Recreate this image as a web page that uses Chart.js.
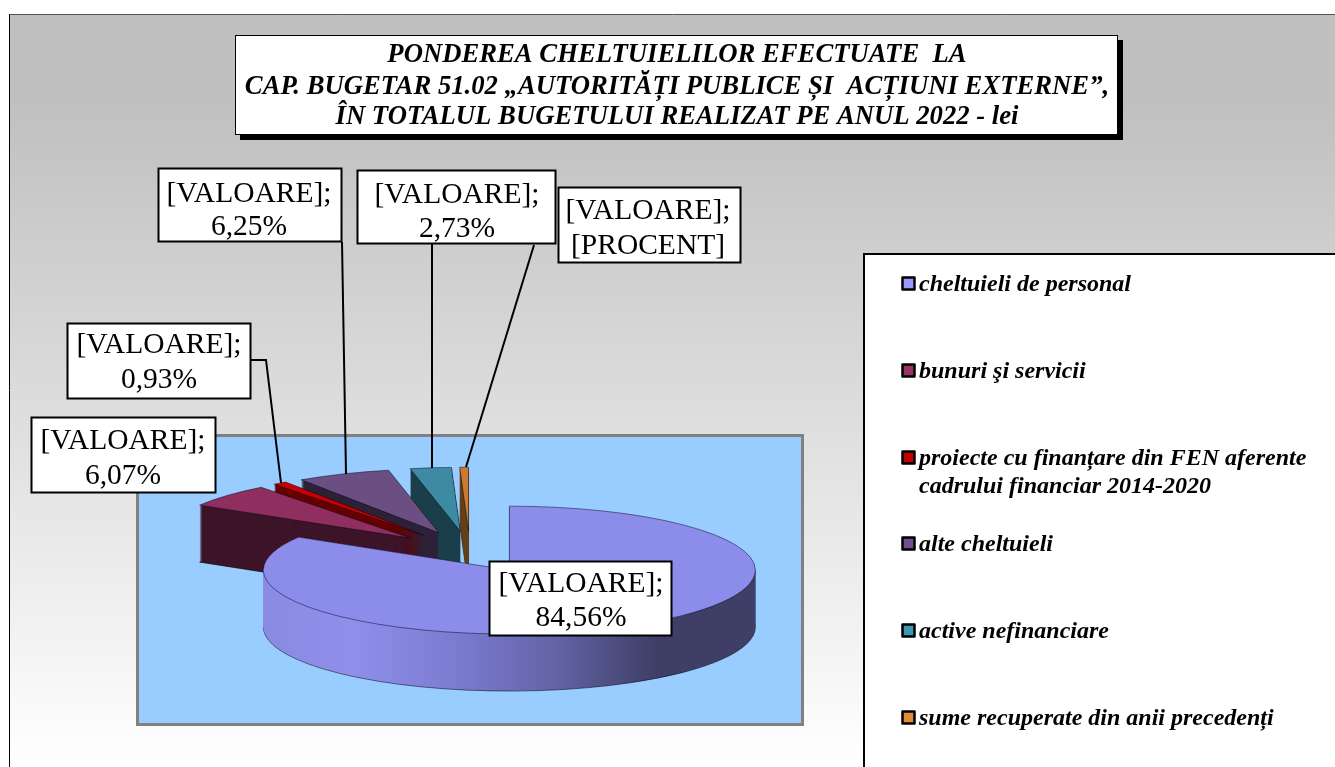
<!DOCTYPE html>
<html lang="ro"><head><meta charset="utf-8">
<style>html,body{margin:0;padding:0;background:#fff;overflow:hidden}canvas{display:block}</style>
<script src="https://cdn.jsdelivr.net/npm/chart.js@4"></script>
</head><body><canvas id="c" width="1335" height="767"></canvas>
<script>
const titleLines = ['PONDEREA CHELTUIELILOR EFECTUATE  LA','CAP. BUGETAR 51.02 „AUTORITĂȚI PUBLICE ȘI  ACȚIUNI EXTERNE”,','ÎN TOTALUL BUGETULUI REALIZAT PE ANUL 2022 - lei'];
const categories = ['cheltuieli de personal','bunuri şi servicii','proiecte cu finanțare din FEN aferente\ncadrului financiar 2014-2020','alte cheltuieli','active nefinanciare','sume recuperate din anii precedenți'];
const values = [84.56,6.07,0.93,6.25,2.73,0.58];
const valueWord = '[VALOARE];';
const percentLabels = ['84,56%','6,07%','0,93%','6,25%','2,73%','[PROCENT]'];
const topColors = ['#8c8ceb','#8e2f60','#c80000','#6b4f82','#3f8aa3','#cc7a33'];
const wallColors = ['#8c8ceb','#3d1428','#640000','#2e2238','#1a3e4a','#664019'];
const swatchColors = ['#9999ff','#993366','#c00000','#705090','#3f97b0','#e08a3c'];

const PIE = {cx:470, cy:552, r:246, k:0.26, explode:80, depth:57};
const SERIF = '"Liberation Serif","Times New Roman",serif';
const calloutBoxes = [
 {x:489,y:561,w:183,h:75,tx:581,y1:584,y2:618},
 {x:31,y:417,w:185,h:76,tx:123,y1:441,y2:476},
 {x:67,y:323,w:184,h:76,tx:159,y1:345,y2:380},
 {x:158,y:168,w:184,h:74,tx:249,y1:194,y2:227},
 {x:357,y:170,w:199,h:74,tx:457,y1:195,y2:229},
 {x:558,y:187,w:183,h:76,tx:648,y1:211,y2:246}
];
const leaders = [
 [[251,360],[266,360],[281,483]],
 [[342,242],[346,474]],
 [[432,244],[432,468]],
 [[534,245],[466,467]]
];
const legendRows = [284,371,458,544,631,718];

function arcWith(arc, bg, bc, bw){
  const a = Object.create(arc);
  a.options = {backgroundColor:bg,borderColor:bc,borderWidth:bw,borderAlign:'center',borderJoinStyle:'round',borderRadius:0,offset:0,spacing:0,circular:true};
  return a;
}
const backdrop = {
  id:'backdrop',
  beforeDraw(chart){
    const c = chart.ctx; c.save();
    c.fillStyle='#fff'; c.fillRect(0,0,1335,767);
    const g = c.createLinearGradient(0,14,0,767);
    g.addColorStop(0,'#c0c0c0'); g.addColorStop(0.12,'#c0c0c0'); g.addColorStop(1,'#ffffff');
    c.fillStyle=g; c.fillRect(10,14,1325,753);
    c.strokeStyle='#555'; c.lineWidth=1; c.beginPath(); c.moveTo(10,14.5); c.lineTo(1335,14.5); c.stroke();
    c.strokeStyle='#000'; c.beginPath(); c.moveTo(9.5,14); c.lineTo(9.5,767); c.stroke();
    c.fillStyle='#99ccff'; c.fillRect(137,435,666,290);
    c.strokeStyle='#808080'; c.lineWidth=3; c.strokeRect(137.5,435.5,665,289);
    c.restore();
  }
};
const pie3d = {
  id:'pie3d',
  beforeDatasetDraw(chart,args){
    const c = chart.ctx, arcs = args.meta.data;
    for(let i=arcs.length-1;i>=0;i--){
      const arc = arcs[i], mid=(arc.startAngle+arc.endAngle)/2;
      const ex = Math.cos(mid)*PIE.explode, ey = Math.sin(mid)*PIE.explode*PIE.k;
      const place = d => {c.translate(PIE.cx+ex,PIE.cy+ey+d); c.scale(1,PIE.k); c.translate(-arc.x,-arc.y);};
      let wall = wallColors[i];
      if(i===0){
        const g = c.createLinearGradient(arc.x-PIE.r,0,arc.x+PIE.r,0);
        g.addColorStop(0,'#8a8ae2'); g.addColorStop(0.18,'#9090ec'); g.addColorStop(0.42,'#7878cc');
        g.addColorStop(0.6,'#6262a4'); g.addColorStop(0.8,'#3e3e66'); g.addColorStop(1,'#3e3e66');
        wall = g;
      }
      for(let d=PIE.depth;d>=1;d--){
        c.save(); place(d);
        arcWith(arc,wall,'rgba(0,0,0,.8)',d===PIE.depth?1:0).draw(c);
        c.restore();
      }
      c.save(); place(0);
      arcWith(arc,topColors[i],'rgba(0,0,20,.75)',1).draw(c);
      c.restore();
    }
    return false;
  }
};
const annotations = {
  id:'annotations',
  afterDatasetsDraw(chart){
    const c = chart.ctx; c.save();
    c.strokeStyle='#000'; c.lineWidth=2;
    leaders.forEach(l=>{c.beginPath(); l.forEach((p,i)=>i?c.lineTo(p[0],p[1]):c.moveTo(p[0],p[1])); c.stroke();});
    calloutBoxes.forEach((b,i)=>{
      c.fillStyle='#fff'; c.fillRect(b.x,b.y,b.w,b.h);
      c.strokeStyle='#000'; c.lineWidth=2; c.strokeRect(b.x+.5,b.y+.5,b.w-1,b.h-1);
      c.fillStyle='#000'; c.font='29.5px '+SERIF; c.textAlign='center'; c.textBaseline='middle';
      c.fillText(valueWord,b.tx,b.y1); c.fillText(percentLabels[i],b.tx,b.y2);
    });
    c.fillStyle='#000'; c.fillRect(240,40,883,100);
    c.fillStyle='#fff'; c.fillRect(235,35,883,100);
    c.strokeStyle='#000'; c.lineWidth=1; c.strokeRect(235.5,35.5,882,99);
    c.fillStyle='#000'; c.font='italic bold 26.7px '+SERIF; c.textAlign='center';
    [55,87,117].forEach((y,i)=>c.fillText(titleLines[i],677,y));
    c.fillStyle='#fff'; c.fillRect(864,254,480,520);
    c.strokeStyle='#000'; c.lineWidth=2; c.strokeRect(864,254,480,520);
    c.font='italic bold 24px '+SERIF; c.textAlign='left';
    categories.forEach((t,i)=>{
      const y = legendRows[i];
      c.fillStyle=swatchColors[i]; c.fillRect(902,y-7,13,13);
      c.strokeStyle='#000'; c.lineWidth=2.5; c.lineJoin='round'; c.strokeRect(902.5,y-6.5,12,12);
      c.fillStyle='#000';
      t.split('\n').forEach((s,j)=>c.fillText(s,919,y+1+j*28));
    });
    c.restore();
  }
};
new Chart(document.getElementById('c'),{
  type:'pie',
  data:{labels:categories,datasets:[{data:values,backgroundColor:topColors,borderWidth:1}]},
  options:{responsive:false,animation:false,devicePixelRatio:1,radius:PIE.r,
    plugins:{legend:{display:false},tooltip:{enabled:false}}},
  plugins:[backdrop,pie3d,annotations]
});
</script></body></html>
